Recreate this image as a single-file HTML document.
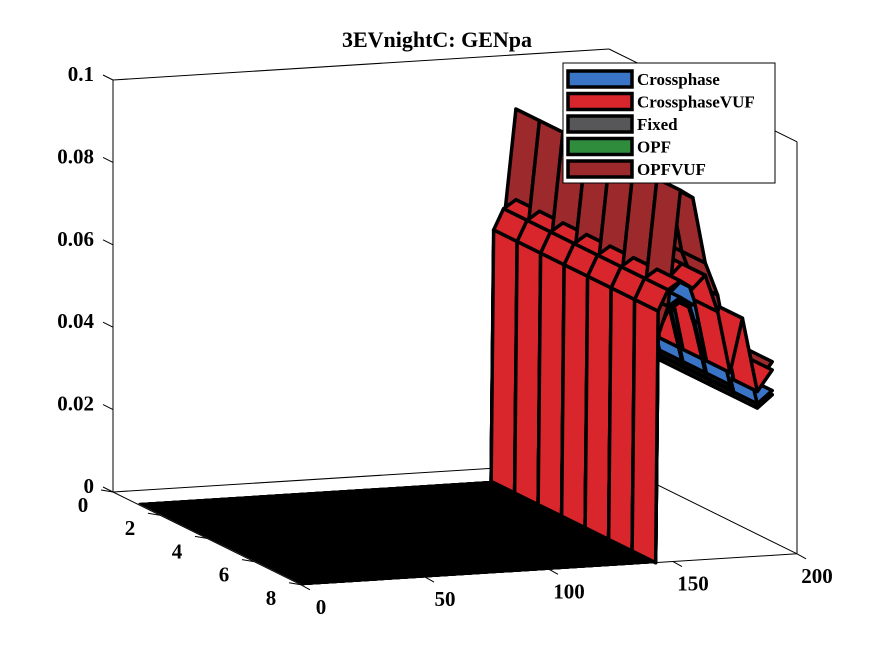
<!DOCTYPE html>
<html><head><meta charset="utf-8"><style>
body{margin:0;background:#fff}
svg{display:block}
text{font-family:"Liberation Serif",serif;font-weight:bold;fill:#000}
</style></head><body>
<svg id="chart" width="875" height="656" viewBox="0 0 875 656">
<rect width="875" height="656" fill="#fff"/>
<text x="437" y="47" font-size="22" text-anchor="middle">3EVnightC: GENpa</text>
<g id="box"></g>
<g id="surf"></g>
<g id="ticks"></g>
<g>
<rect x="563" y="63" width="212" height="120" fill="#fff" stroke="#000" stroke-width="1"/>
<g id="leg"></g>
</g>
</svg>
<script>
const seriesNames=["Crossphase","CrossphaseVUF","Fixed","OPF","OPFVUF"];
const seriesColors=["#3a74c6","#d8262c","#57575a","#2f8c3c","#9c2a2c"];
const drawRank=[2,4,1,0,3];
const xCols=[1,143,144,148,153,158,163,168,173,178,184,190];
const yRows=[1,2,3,4,5,6,7,8];
const zCrossphase=[0,0,0.057,0.062,0.064,0.062,0.065,0.055,0.042,0.052,0.037,0.040];
const zCrossphaseVUF=[0,0,0.061,0.066,0.068,0.066,0.069,0.060,0.045,0.058,0.040,0.045];
const zFixed=[0,0,0.056,0.061,0.063,0.061,0.064,0.054,0.041,0.051,0.036,0.039];
const zOPF=[0,0,0.056,0.061,0.063,0.061,0.064,0.054,0.041,0.051,0.036,0.039];
const zOPFVUF=[0,0,0.055,0.062,0.090,0.088,0.072,0.064,0.048,0.056,0.042,0.047];
const seriesZ=[zCrossphase,zCrossphaseVUF,zFixed,zOPF,zOPFVUF];
const xTicks=[0,50,100,150,200];
const yTicks=[0,2,4,6,8];
const zTicks=[0,0.02,0.04,0.06,0.08,0.1];
const zTickLabels=["0","0.02","0.04","0.06","0.08","0.1"];

const NS="http://www.w3.org/2000/svg";
const O=[113,492], EX=[2.48,-0.155], EY=[23.5,11.6], EZ=-4120;
function P(x,y,z){return [O[0]+x*EX[0]+y*EY[0], O[1]+x*EX[1]+y*EY[1]+z*EZ];}
function mk(tag,attrs,parent){const e=document.createElementNS(NS,tag);for(const k in attrs)e.setAttribute(k,attrs[k]);parent.appendChild(e);return e;}
function line(a,b,parent,w){return mk("line",{x1:a[0],y1:a[1],x2:b[0],y2:b[1],stroke:"#000","stroke-width":w||1},parent);}

const box=document.getElementById("box");
line(P(0,0,0),P(0,0,0.1),box);
line(P(0,0,0.1),P(200,0,0.1),box);
line(P(200,0,0.1),P(200,8,0.1),box);
line(P(200,8,0.1),P(200,8,0),box);
line(P(0,0,0),P(200,0,0),box);
line(P(200,0,0),P(200,8,0),box);
line(P(0,8,0),P(200,8,0),box);
line(P(0,0,0),P(0,8,0),box);

const quads=[];
seriesZ.forEach((zs,s)=>{
  for(let i=0;i<yRows.length-1;i++){
    for(let j=0;j<xCols.length-1;j++){
      const pts=[[xCols[j],yRows[i],zs[j]],[xCols[j+1],yRows[i],zs[j+1]],[xCols[j+1],yRows[i+1],zs[j+1]],[xCols[j],yRows[i+1],zs[j]]];
      quads.push({s,i,j,pts,flat:zs[j]===0&&zs[j+1]===0});
    }
  }
});
quads.sort((a,b)=>(a.i-b.i)||(drawRank[a.s]-drawRank[b.s])||(b.j-a.j));
const surf=document.getElementById("surf");
quads.forEach(q=>{
  const pts=q.pts.map(p=>P(p[0],p[1],p[2]).join(",")).join(" ");
  const el=mk("polygon",{points:pts,fill:q.flat?"#000":seriesColors[q.s],stroke:"#000","stroke-width":q.flat?1:3.5,"stroke-linejoin":"round"},surf);
  
  
});

const tk=document.getElementById("ticks");
xTicks.forEach(v=>{
  const p=P(v,8,0);
  line(p,[p[0]+9,p[1]+5],tk);
  const t=mk("text",{x:p[0]+20,y:p[1]+29,"font-size":21,"text-anchor":"middle"},tk);
  t.textContent=v;
  
  
});
yTicks.forEach(v=>{
  const p=P(0,v,0);
  line(p,[p[0]-12,p[1]-2],tk);
  const t=mk("text",{x:p[0]-30,y:p[1]+20,"font-size":21,"text-anchor":"middle"},tk);
  t.textContent=v;
  
  
});
zTicks.forEach((v,i)=>{
  const p=P(0,0,v);
  line(p,[p[0]-10,p[1]-5],tk);
  const t=mk("text",{x:94,y:p[1]+1,"font-size":21,"text-anchor":"end"},tk);
  t.textContent=zTickLabels[i];
  
  
});

const leg=document.getElementById("leg");
seriesNames.forEach((n,i)=>{
  const y=79+i*22.5;
  const r=mk("rect",{x:568,y:y-8,width:64,height:16,fill:seriesColors[i],stroke:"#000","stroke-width":3.5},leg);
  
  
  const t=mk("text",{x:637,y:y+6,"font-size":17},leg);
  t.textContent=n;
  
  
});
</script>
</body></html>
